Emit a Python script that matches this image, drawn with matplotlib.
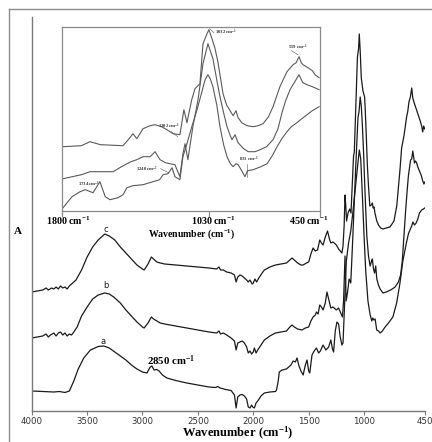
import matplotlib
matplotlib.use("Agg")
import matplotlib.pyplot as plt
from matplotlib.lines import Line2D
from matplotlib.transforms import blended_transform_factory

plt.rcParams['mathtext.fontset'] = 'custom'
plt.rcParams['mathtext.rm'] = 'Liberation Serif:bold'
plt.rcParams['mathtext.bf'] = 'Liberation Serif:bold'
plt.rcParams['mathtext.it'] = 'Liberation Serif:bold:italic'

# ---------------- FTIR spectra (wavenumber, absorbance in arbitrary offset units)
wn_a = [4000, 3900, 3800, 3750, 3700, 3660, 3620, 3580, 3530, 3470, 3400, 3350, 3300, 3250,
        3200, 3150, 3100, 3050, 3000, 2960, 2930, 2915, 2895, 2870, 2850, 2820, 2780, 2700,
        2600, 2500, 2400, 2340, 2320, 2300, 2280, 2250, 2200, 2170, 2155, 2140, 2120, 2100,
        2080, 2060, 2045, 2030, 2015, 2005, 1990, 1975, 1960, 1930, 1900, 1850, 1800, 1790,
        1775, 1765, 1740, 1700, 1660, 1640, 1620, 1605, 1590, 1570, 1550, 1530, 1515, 1500,
        1490, 1470, 1450, 1430, 1410, 1395, 1370, 1345, 1320, 1300, 1285, 1275, 1260, 1245,
        1230, 1215, 1200, 1190, 1175, 1160, 1140, 1120, 1100, 1080, 1060, 1043, 1030, 1015,
        1000, 985, 965, 945, 930, 922, 912, 900, 886, 870, 855, 835, 810, 780, 740, 706, 676,
        650, 620, 600, 586, 570, 559, 545, 530, 515, 500, 480, 465, 452]
ab_a = [20, 19.5, 19, 19.5, 18.5, 20, 30, 42, 53, 61, 64.5, 65, 63, 59,
        55, 51, 46, 42, 39, 38, 44, 45, 41, 41.5, 40, 36, 33, 30.5,
        28, 26, 24, 23.5, 24.5, 23, 22.5, 21.5, 20.5, 16, 3, 14, 16, 16.5,
        15, 12, 4, 3, 6, 4, 3, 8, 10, 15, 18, 19, 19.5, 21,
        30, 39, 41, 42, 46, 50, 49, 53, 46, 40, 36, 46, 51, 40,
        38, 56, 60, 63, 58, 60, 66, 61, 64, 71, 62, 59, 80, 89,
        87, 74, 66, 68, 110, 150, 168, 180, 200, 222, 243, 261, 252, 215,
        175, 140, 110, 96, 90, 93, 91, 92, 81, 80, 78, 80, 84, 88, 94, 108, 128,
        150, 167, 177, 181, 185, 189, 186, 188, 192, 198, 201, 202, 203]

wn_b = [4000, 3950, 3900, 3870, 3850, 3830, 3800, 3780, 3760, 3740, 3720, 3700, 3680, 3660,
        3640, 3620, 3590, 3550, 3500, 3450, 3400, 3340, 3300, 3260, 3200, 3150, 3100, 3050,
        3000, 2985, 2950, 2920, 2900, 2870, 2840, 2800, 2700, 2600, 2500, 2400, 2330, 2310,
        2295, 2270, 2240, 2200, 2170, 2155, 2140, 2120, 2100, 2080, 2060, 2045, 2030, 2015,
        2000, 1990, 1975, 1960, 1930, 1900, 1850, 1800, 1750, 1700, 1670, 1650, 1630, 1600,
        1560, 1530, 1500, 1480, 1460, 1440, 1430, 1415, 1400, 1385, 1370, 1350, 1335, 1320,
        1300, 1280, 1250, 1230, 1210, 1195, 1185, 1172, 1162, 1150, 1135, 1120, 1105, 1090,
        1075, 1062, 1055, 1045, 1035, 1025, 1015, 1005, 990, 975, 960, 945, 932, 925, 915,
        905, 895, 885, 870, 855, 830, 800, 760, 720, 690, 670, 655, 640, 625, 610, 600, 590,
        580, 570, 565, 560, 552, 545, 535, 525, 515, 500, 485, 470, 460, 452]
ab_b = [73, 74, 75, 77, 74, 76, 78, 75, 78, 79, 76, 78, 75, 77,
        76, 79, 84, 95, 104, 112, 116, 118, 117, 114, 108, 101, 95, 89,
        84, 83, 88, 94, 92, 90, 88, 87, 85, 83, 81, 79, 78, 80,
        77, 78, 76, 73, 70, 61, 68, 69, 70, 68, 64, 58, 60, 57,
        59, 63, 58, 61, 66, 71, 75, 78, 79, 80, 84, 86, 84, 82,
        81, 83, 84, 90, 94, 96, 99, 97, 106, 104, 101, 108, 119, 112,
        103, 104, 101, 103, 98, 94, 110, 155, 110, 118, 132, 128, 165, 205,
        245, 275, 293, 300, 314, 305, 285, 260, 215, 175, 155, 145, 150, 152, 142,
        138, 145, 132, 126, 122, 118, 119, 121, 124, 129, 136, 150, 175, 200, 222, 235, 243,
        251, 252, 256, 260, 254, 248, 250, 248, 244, 240, 236, 230, 227, 229]

wn_c = [4000, 3950, 3900, 3870, 3850, 3820, 3800, 3780, 3760, 3740, 3720, 3700, 3680, 3660,
        3640, 3600, 3550, 3500, 3450, 3400, 3340, 3300, 3250, 3200, 3150, 3100, 3050, 3000,
        2985, 2950, 2920, 2900, 2870, 2840, 2800, 2700, 2600, 2500, 2400, 2330, 2310, 2295,
        2270, 2240, 2200, 2170, 2155, 2140, 2120, 2100, 2080, 2060, 2045, 2030, 2010, 2000,
        1985, 1970, 1950, 1920, 1900, 1850, 1800, 1750, 1700, 1670, 1650, 1630, 1600, 1570,
        1550, 1520, 1500, 1480, 1460, 1440, 1420, 1400, 1385, 1370, 1350, 1330, 1310, 1300,
        1280, 1250, 1230, 1215, 1200, 1190, 1180, 1172, 1165, 1158, 1145, 1130, 1118, 1105,
        1095, 1088, 1080, 1070, 1060, 1050, 1043, 1035, 1025, 1010, 995, 985, 970, 960, 948,
        935, 925, 918, 910, 902, 885, 870, 850, 830, 800, 766, 730, 705, 690, 676, 661, 640,
        616, 605, 595, 582, 570, 560, 550, 541, 523, 510, 496, 480, 471, 462, 452]
ab_c = [119, 120, 121, 123, 121, 123, 122, 124, 122, 125, 123, 124, 122, 125,
        127, 131, 141, 154, 164, 171, 177, 175, 171, 164, 158, 152, 146, 142,
        141, 147, 154, 152, 149, 148, 147, 146, 145, 144, 143, 142, 144, 141,
        141, 139, 138, 136, 129, 134, 136, 135, 133, 131, 129, 131, 127, 128,
        132, 129, 133, 138, 141, 144, 146, 147, 148, 151, 153, 151, 148, 146,
        146, 148, 149, 157, 163, 160, 161, 171, 168, 166, 174, 180, 171, 168,
        169, 166, 162, 160, 158, 165, 185, 216, 205, 190, 198, 202, 198, 230,
        255, 259, 285, 320, 354, 362, 377, 360, 333, 320, 314, 290, 245, 225, 205,
        206, 208, 203, 204, 198, 190, 186, 183, 182, 183, 184, 190, 205, 224, 241, 263, 275,
        294, 300, 309, 314, 323, 313, 309, 306, 300, 296, 291, 285, 279, 285, 282]

# ---------------- Inset: 1800-450 cm-1 region
in_wn_a = [1796, 1749, 1707, 1680, 1639, 1603, 1575, 1550, 1508, 1482, 1461, 1430, 1377, 1325,
           1290, 1272, 1246, 1225, 1210, 1184, 1168, 1147, 1120, 1094, 1070, 1052, 1037, 1025,
           1011, 990, 974, 955, 937, 920, 905, 890, 879, 860, 843, 830, 800, 760, 727, 700,
           675, 650, 623, 600, 571, 545, 518, 490, 455]
in_ab_a = [3, 14, 19, 21, 18, 29, 14, 11, 13, 16, 23, 25, 26, 29,
           31, 36, 37, 43, 34, 31, 54, 67, 85, 101, 118, 131, 136, 132,
           124, 105, 84, 66, 54, 47, 44, 47, 46, 40, 34, 40, 41, 44, 47, 55,
           64, 72, 79, 84, 88, 92, 96, 100, 104]

in_wn_b = [1796, 1700, 1655, 1580, 1534, 1490, 1461, 1440, 1410, 1377, 1340, 1314, 1288, 1260,
           1236, 1210, 1195, 1184, 1168, 1157, 1142, 1116, 1089, 1063, 1037, 1025, 1011, 990,
           974, 955, 937, 920, 911, 895, 879, 850, 826, 790, 764, 730, 696, 670, 649, 630, 607,
           585, 560, 540, 518, 490, 455]
in_ab_b = [32, 36, 39, 39, 39, 44, 47, 49, 51, 54, 54, 59, 51, 48,
           47, 46, 39, 34, 57, 67, 51, 84, 111, 147, 167, 160, 152, 130,
           114, 98, 84, 75, 71, 76, 68, 62, 59, 59, 61, 64, 71, 82, 98, 110, 121,
           128, 136, 128, 126, 124, 121]

in_wn_c = [1796, 1700, 1655, 1600, 1482, 1450, 1430, 1410, 1377, 1340, 1314, 1280, 1252, 1220,
           1184, 1172, 1163, 1147, 1122, 1105, 1079, 1063, 1042, 1032, 1016, 1001, 985, 958,
           940, 921, 905, 890, 879, 860, 832, 800, 775, 748, 720, 696, 660, 623, 591, 575,
           560, 548, 539, 513, 490, 476, 455]
in_ab_c = [64, 65, 69, 66, 65, 72, 77, 72, 82, 85, 86, 84, 81, 77,
           76, 90, 101, 88, 111, 122, 127, 167, 177, 181, 172, 163, 149, 117,
           106, 100, 95, 100, 93, 88, 85, 84, 85, 87, 94, 104, 124, 139, 146, 148,
           154, 148, 146, 143, 140, 136, 133]

main_ticks = [4000, 3500, 3000, 2500, 2000, 1500, 1000, 450]
main_tick_labels = ['4000', '3500', '3000', '2500', '2000', '1500', '1000', '450']
inset_ticks = [1800, 1030, 450]

W, H = 432, 442
fig = plt.figure(figsize=(W / 100, H / 100), dpi=100)
fig.patch.set_facecolor('white')

FRAME = '#8c8c8c'
INK = '#1a1a1a'
GREY_LINE = '#5a5a5a'
serif = 'Liberation Serif'

# outer frame
fig.add_artist(Line2D([9 / W, 9 / W], [0, 1 - 9 / H], transform=fig.transFigure,
                      color=FRAME, lw=1.0))
fig.add_artist(Line2D([9 / W, 1], [1 - 9 / H, 1 - 9 / H], transform=fig.transFigure,
                      color=FRAME, lw=1.0))

# main spectra panel
ax = fig.add_axes([31.7 / W, 1 - 411 / H, (425 - 31.7) / W, (411 - 17) / H])
ax.set_facecolor('none')
for wn, ab in ((wn_a, ab_a), (wn_b, ab_b), (wn_c, ab_c)):
    ax.plot(wn, ab, color=INK, lw=0.9, solid_joinstyle='round')
ax.set_xlim(4000, 450)
ax.set_ylim(0, 394)
ax.spines['top'].set_visible(False)
ax.spines['right'].set_visible(False)
for s in ('left', 'bottom'):
    ax.spines[s].set_color('#7a7a7a')
    ax.spines[s].set_linewidth(1.0)
ax.set_yticks([])
ax.set_xticks(main_ticks)
ax.set_xticklabels(main_tick_labels)
ax.tick_params(axis='x', direction='out', length=3, width=0.8, color='#7a7a7a',
               labelsize=6.2, labelcolor='#333333', pad=1.0)

fig.text(238 / W, 1 - 433.5 / H, r'Wavenumber (cm$^{-1}$)', ha='center', va='center',
         fontsize=9.0, fontweight='bold', family=serif)
fig.text(18 / W, 1 - 231 / H, 'A', ha='center', va='center', fontsize=8,
         fontweight='bold', family=serif)

ax.text(3330, 411 - 229, 'c', ha='center', va='center', fontsize=6, color=INK)
ax.text(3330, 411 - 286, 'b', ha='center', va='center', fontsize=6, color=INK)
ax.text(3355, 411 - 342, 'a', ha='center', va='center', fontsize=6, color=INK)
ax.text(2745, 411 - 361, r'2850 cm$^{-1}$', ha='center', va='center', fontsize=7.8,
        fontweight='bold', family=serif)

# inset: fingerprint region
ins = fig.add_axes([62.3 / W, 1 - 210.7 / H, 257.7 / W, 184 / H])
ins.set_facecolor('white')
for wn, ab in ((in_wn_a, in_ab_a), (in_wn_b, in_ab_b), (in_wn_c, in_ab_c)):
    ins.plot(wn, ab, color=GREY_LINE, lw=0.8, solid_joinstyle='round')
ins.set_xlim(1800, 450)
ins.set_ylim(0, 184)
for s in ins.spines.values():
    s.set_color('#8a8a8a')
    s.set_linewidth(0.9)
ins.set_yticks([])
ins.set_xticks(inset_ticks)
ins.set_xticklabels([])
ins.tick_params(axis='x', direction='out', length=4, width=0.9, color='#8a8a8a')

bt = blended_transform_factory(ins.transData, ins.transAxes)
for x, lab in ((1770, '1800'), (1010, '1030'), (507, '450')):
    ins.text(x, -10.3 / 184, lab + r' cm$^{-1}$', transform=bt, ha='center', va='center',
             fontsize=7.2, fontweight='bold', family=serif, clip_on=False)
ins.text(1120, -23.2 / 184, r'Wavenumber (cm$^{-1}$)', transform=bt, ha='center',
         va='center', fontsize=7.0, fontweight='bold', family=serif, clip_on=False)

# peak annotations inside the inset
small = dict(fontsize=3.4, fontweight='bold', family=serif, color='#333333',
             va='center', ha='left')
ins.text(1000, 178, r'1032 cm$^{-1}$', **small)
ins.plot([1028, 1006], [182, 178], color='#555555', lw=0.4)
ins.text(620, 163, r'559 cm$^{-1}$', **small)
ins.plot([600, 566], [160, 156], color='#555555', lw=0.4)
ins.text(1300, 84, r'1202 cm$^{-1}$', **small)
ins.plot([1228, 1196], [79, 74], color='#555555', lw=0.4)
ins.text(1412, 41, r'1240 cm$^{-1}$', **small)
ins.plot([1285, 1244], [42, 38], color='#555555', lw=0.4)
ins.text(872, 51, r'831 cm$^{-1}$', **small)
ins.plot([831, 831], [47, 34], color='#555555', lw=0.4)
ins.text(1720, 26, r'1734 cm$^{-1}$', **small)

fig.savefig('out.png', dpi=100, facecolor='white')
